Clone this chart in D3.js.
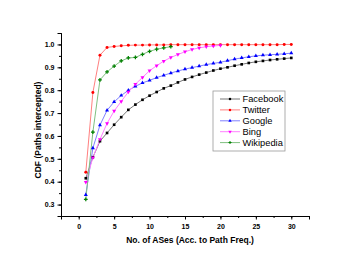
<!DOCTYPE html>
<html>
<head>
<meta charset="utf-8">
<script src="https://cdn.jsdelivr.net/npm/d3@7"></script>
<style>
  body { margin: 0; background: #fff; }
  svg { display: block; font-family: "Liberation Sans", Arial, sans-serif; }
</style>
</head>
<body>
<script>
var width = 352;
var height = 272;

// y values per number of ASes (x = 1, 2, 3, ...)
var facebook = [0.415, 0.507, 0.577, 0.613, 0.649, 0.682, 0.714, 0.737, 0.758, 0.776, 0.792, 0.808, 0.82, 0.834, 0.847, 0.858, 0.868, 0.877, 0.886, 0.894, 0.9, 0.907, 0.913, 0.919, 0.924, 0.928, 0.932, 0.935, 0.938, 0.941];
var twitter = [0.441, 0.79, 0.953, 0.987, 0.991, 0.994, 0.996, 0.997, 0.997, 0.998, 0.998, 0.998, 0.999, 0.999, 0.999, 0.999, 0.999, 0.999, 0.999, 0.999, 0.999, 0.999, 0.999, 0.999, 0.999, 0.999, 0.999, 0.999, 1.0, 1.0];
var google = [0.343, 0.547, 0.647, 0.712, 0.749, 0.777, 0.799, 0.817, 0.832, 0.843, 0.855, 0.865, 0.875, 0.884, 0.892, 0.899, 0.905, 0.912, 0.917, 0.922, 0.929, 0.936, 0.941, 0.946, 0.95, 0.953, 0.955, 0.957, 0.959, 0.962];
var bing = [0.398, 0.505, 0.585, 0.655, 0.709, 0.751, 0.792, 0.826, 0.856, 0.885, 0.907, 0.927, 0.943, 0.956, 0.968, 0.978, 0.985, 0.99, 0.993, 0.996];
var wikipedia = [0.323, 0.617, 0.845, 0.88, 0.905, 0.928, 0.941, 0.943, 0.957, 0.97, 0.979, 0.985, 0.99];

var names = ["Facebook", "Twitter", "Google", "Bing", "Wikipedia"];
var lineColors = ["#777777", "#ff8080", "#8080ff", "#ff80ff", "#80c080"];
var markColors = ["#000000", "#ff0000", "#0000ff", "#ff00ff", "#008000"];
var symbols = [d3.symbolSquare, d3.symbolCircle, d3.symbolTriangle, d3.symbolTriangle, d3.symbolCross];
var allValues = [facebook, twitter, google, bing, wikipedia];

var xTicks = [0, 5, 10, 15, 20, 25, 30];
var yTicks = [0.3, 0.4, 0.5, 0.6, 0.7, 0.8, 0.9, 1.0];

var series = names.map(function(name, i) {
  return {
    name: name,
    points: allValues[i].map(function(v, j) { return { x: j + 1, y: v }; })
  };
});

var svg = d3.select("body").append("svg")
  .attr("width", width)
  .attr("height", height);

var x = d3.scaleLinear().domain([-2.5, 32.5]).range([61, 309]);
var y = d3.scaleLinear().domain([0.25, 1.05]).range([216, 33]);

// axes (left + bottom only)
var xAxis = svg.append("g").attr("transform", "translate(0,216)");
xAxis.call(d3.axisBottom(x).tickValues(d3.range(-2.5, 33, 2.5)).tickSize(2).tickFormat(""));
xAxis.call(function(g) {
  g.append("g").call(d3.axisBottom(x).tickValues(xTicks).tickSize(3.5).tickFormat(d3.format("d")));
});
var yAxis = svg.append("g").attr("transform", "translate(61,0)");
yAxis.call(d3.axisLeft(y).tickValues(d3.range(0.25, 1.06, 0.05)).tickSize(2).tickFormat(""));
yAxis.call(function(g) {
  g.append("g").call(d3.axisLeft(y).tickValues(yTicks).tickSize(3.5).tickFormat(d3.format(".1f")));
});
svg.selectAll(".domain").attr("stroke", "#000").attr("stroke-width", 1);
svg.selectAll(".tick line").attr("stroke", "#000");
svg.selectAll(".tick text")
  .attr("font-size", 7)
  .attr("font-weight", "bold")
  .attr("font-family", "Liberation Sans, Arial, sans-serif")
  .attr("fill", "#000");
xAxis.selectAll(".tick text").attr("dy", "0.9em");

// lines and markers
var line = d3.line().x(function(d) { return x(d.x); }).y(function(d) { return y(d.y); });

series.forEach(function(s, i) {
  svg.append("path")
    .datum(s.points)
    .attr("fill", "none")
    .attr("stroke", lineColors[i])
    .attr("stroke-width", 1)
    .attr("d", line);
});
series.forEach(function(s, i) {
  var sym = d3.symbol().type(symbols[i]).size(i == 4 ? 8 : 7);
  svg.append("g").selectAll("path")
    .data(s.points)
    .enter().append("path")
    .attr("d", sym)
    .attr("fill", markColors[i])
    .attr("transform", function(d) {
      var r = i == 3 ? " rotate(180)" : "";
      return "translate(" + x(d.x) + "," + y(d.y) + ")" + r;
    });
});

// legend
var legend = svg.append("g").attr("transform", "translate(213,91)");
legend.append("rect")
  .attr("width", 72).attr("height", 60)
  .attr("fill", "#fff").attr("stroke", "#999").attr("stroke-width", 0.8);
names.forEach(function(name, i) {
  var ly = 8 + i * 10.9;
  legend.append("line")
    .attr("x1", 7).attr("x2", 27).attr("y1", ly).attr("y2", ly)
    .attr("stroke", lineColors[i]).attr("stroke-width", 1);
  legend.append("path")
    .attr("d", d3.symbol().type(symbols[i]).size(5))
    .attr("fill", markColors[i])
    .attr("transform", "translate(17," + ly + ")" + (i == 3 ? " rotate(180)" : ""));
  legend.append("text")
    .attr("x", 29.5).attr("y", ly).attr("dy", "0.35em")
    .attr("font-size", 9.3)
    .text(name);
});

// axis titles
svg.append("text")
  .attr("x", 190).attr("y", 243)
  .attr("text-anchor", "middle")
  .attr("font-size", 8.5).attr("font-weight", "bold")
  .text("No. of ASes (Acc. to Path Freq.)");
svg.append("text")
  .attr("transform", "translate(41,130) rotate(-90)")
  .attr("text-anchor", "middle")
  .attr("font-size", 8.5).attr("font-weight", "bold")
  .text("CDF (Paths intercepted)");
</script>
</body>
</html>
